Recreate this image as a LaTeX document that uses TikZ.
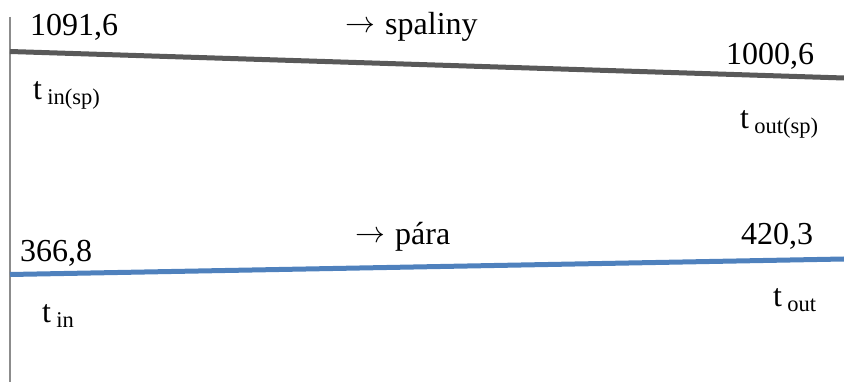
\documentclass[tikz,border=0pt]{standalone}
\usepackage{fontspec}
\setmainfont{Liberation Serif}
\definecolor{gasline}{HTML}{595959}
\definecolor{steamline}{HTML}{4F81BD}
\definecolor{axisline}{HTML}{8C8C8C}
\newcommand{\myarrow}{\makebox[40pt][l]{\raisebox{2pt}{\scalebox{1.2}{\fontsize{24}{28}\selectfont$\rightarrow$}}}}
\begin{document}
\begin{tikzpicture}[x=1pt,y=-1pt,
  lbl/.style={anchor=base west,inner sep=0pt,font=\fontsize{32}{36}\selectfont}]
\useasboundingbox (0,0) rectangle (844,382);
% axis
\coordinate (axtop) at (10,17);
\coordinate (axbot) at (10,382);
\draw[axisline,line width=1.5pt] (axtop) -- (axbot);
% lines
\coordinate (g1) at (10,51.5);
\coordinate (g2) at (844,78);
\draw[gasline,line width=5pt] (g1) -- (g2);
\coordinate (s1) at (10,274.5);
\coordinate (s2) at (844,259);
\draw[steamline,line width=5pt] (s1) -- (s2);
% labels
\node[lbl] (v1) at (30,36) {1091,6};
\node[lbl] (v2) at (726,65) {1000,6};
\node[lbl] (v3) at (20,262) {366,8};
\node[lbl] (v4) at (741,245) {420,3};
\node[lbl] (sp) at (345,35) {\myarrow spaliny};
\node[lbl] (pa) at (355,245) {\myarrow pára};
\node[lbl] (t1) at (33,100) {t\,\raisebox{-5pt}{\fontsize{22.5}{26}\selectfont in(sp)}};
\node[lbl] (t2) at (740,129) {t\,\raisebox{-5pt}{\fontsize{22.5}{26}\selectfont out(sp)}};
\node[lbl] (t3) at (42,323) {t\,\raisebox{-5pt}{\fontsize{22.5}{26}\selectfont in}};
\node[lbl] (t4) at (773,307) {t\,\raisebox{-5pt}{\fontsize{22.5}{26}\selectfont out}};
\end{tikzpicture}
\end{document}
